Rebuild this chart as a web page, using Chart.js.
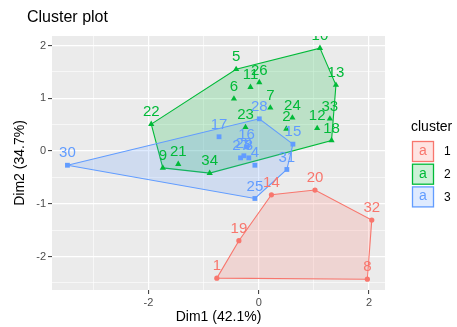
<!DOCTYPE html>
<html>
<head>
<meta charset="utf-8">
<script src="https://cdn.jsdelivr.net/npm/chart.js@4.4.0/dist/chart.umd.min.js"></script>
<style>
html, body { margin: 0; padding: 0; background: #fff; }
</style>
</head>
<body>
<canvas id="chartCluster" width="457" height="327"></canvas>
<script>
// cluster 1
var c1Ids = ['1', '8', '14', '19', '20', '32'];
var c1X = [-0.76, 1.97, 0.23, -0.36, 1.02, 2.05];
var c1Y = [-2.41, -2.43, -0.83, -1.70, -0.74, -1.31];

// cluster 2
var c2Ids = ['2', '5', '6', '7', '9', '10', '11', '12', '13', '18', '21', '22', '23', '24', '26', '33', '34'];
var c2X = [0.50, -0.41, -0.45, 0.21, -1.74, 1.11, -0.15, 1.06, 1.40, 1.32, -1.46, -1.95, -0.24, 0.61, 0.01, 1.29, -0.89];
var c2Y = [0.42, 1.55, 0.99, 0.82, -0.32, 1.95, 1.21, 0.43, 1.25, 0.20, -0.25, 0.51, 0.45, 0.63, 1.30, 0.61, -0.42];

// cluster 3
var c3Ids = ['3', '4', '15', '16', '17', '25', '27', '28', '29', '30', '31'];
var c3X = [-0.18, -0.07, 0.62, -0.22, -0.72, -0.07, -0.33, 0.01, -0.27, -3.47, 0.51];
var c3Y = [-0.13, -0.27, 0.13, 0.08, 0.27, -0.90, -0.13, 0.61, -0.09, -0.27, -0.35];

var clusterNames = ['1', '2', '3'];
var xMajor = [-2, 0, 2];
var xTicks = [-3, -2, -1, 0, 1, 2];
var yMajor = [-2, -1, 0, 1, 2];
var yTicks = [-2.5, -2, -1.5, -1, -0.5, 0, 0.5, 1, 1.5, 2];

var colors = ['#F8766D', '#00BA38', '#619CFF'];
var fills = ['rgba(248,118,109,0.2)', 'rgba(0,186,56,0.2)', 'rgba(97,156,255,0.2)'];
var shapes = ['circle', 'triangle', 'rect'];
var radii = [2.6, 3.6, 3.4];
var FONT = '"Liberation Sans", Arial, sans-serif';

function toPoints(ids, xs, ys) {
    var pts = [];
    for (var i = 0; i < ids.length; i++) {
        pts.push({ x: xs[i], y: ys[i], id: ids[i] });
    }
    return pts;
}

// convex hull (monotone chain), closed
function hull(pts) {
    var p = pts.slice().sort(function(a, b) { return a.x - b.x || a.y - b.y; });
    function cross(o, a, b) { return (a.x - o.x) * (b.y - o.y) - (a.y - o.y) * (b.x - o.x); }
    var lower = [], upper = [];
    for (var i = 0; i < p.length; i++) {
        while (lower.length >= 2 && cross(lower[lower.length - 2], lower[lower.length - 1], p[i]) <= 0) lower.pop();
        lower.push(p[i]);
    }
    for (i = p.length - 1; i >= 0; i--) {
        while (upper.length >= 2 && cross(upper[upper.length - 2], upper[upper.length - 1], p[i]) <= 0) upper.pop();
        upper.push(p[i]);
    }
    upper.pop();
    var h = lower.concat(upper);
    h.push(h[0]);
    return h.map(function(q) { return { x: q.x, y: q.y }; });
}

var clusters = [
    toPoints(c1Ids, c1X, c1Y),
    toPoints(c2Ids, c2X, c2Y),
    toPoints(c3Ids, c3X, c3Y)
];

var datasets = [];
clusters.forEach(function(pts, k) {
    datasets.push({
        label: 'hull' + clusterNames[k],
        data: hull(pts),
        borderColor: colors[k],
        backgroundColor: fills[k],
        borderWidth: 1.1,
        fill: 'shape',
        tension: 0,
        pointRadius: 0,
        order: 20 - k
    });
});
clusters.forEach(function(pts, k) {
    datasets.push({
        label: 'cluster' + clusterNames[k],
        data: pts,
        showLine: false,
        pointStyle: shapes[k],
        pointRadius: radii[k],
        pointBackgroundColor: colors[k],
        pointBorderColor: colors[k],
        pointBorderWidth: 0,
        isPoints: true,
        order: 5 - k
    });
});

var panelPlugin = {
    id: 'panel',
    beforeDraw: function(chart) {
        var a = chart.chartArea, c = chart.ctx;
        c.save();
        c.fillStyle = '#EBEBEB';
        c.fillRect(a.left, a.top, a.right - a.left, a.bottom - a.top);
        c.restore();
    },
    afterDatasetsDraw: function(chart) {
        var a = chart.chartArea, c = chart.ctx;
        c.save();
        c.beginPath();
        c.rect(a.left, a.top, a.right - a.left, a.bottom - a.top);
        c.clip();
        c.font = '15px ' + FONT;
        c.textAlign = 'center';
        c.textBaseline = 'middle';
        chart.data.datasets.forEach(function(ds, i) {
            if (!ds.isPoints) return;
            var meta = chart.getDatasetMeta(i);
            c.fillStyle = ds.pointBackgroundColor;
            meta.data.forEach(function(el, j) {
                c.fillText(ds.data[j].id, el.x, el.y - 12);
            });
        });
        c.restore();
    },
    afterDraw: function(chart) {
        var c = chart.ctx;
        c.save();
        c.fillStyle = '#000';
        c.textBaseline = 'middle';
        c.textAlign = 'left';
        c.font = '16px ' + FONT;
        c.fillText('Cluster plot', 27, 18);
        // legend
        c.font = '14px ' + FONT;
        c.fillText('cluster', 411, 127);
        for (var k = 0; k < clusterNames.length; k++) {
            var y = 141 + k * 22.7;
            c.fillStyle = '#fff';
            c.fillRect(412, y, 22, 21);
            c.fillStyle = fills[k];
            c.strokeStyle = colors[k];
            c.lineWidth = 1.3;
            c.fillRect(412.5, y + 0.5, 21, 20);
            c.strokeRect(412.5, y + 0.5, 21, 20);
            c.fillStyle = colors[k];
            c.textAlign = 'center';
            c.font = '14px ' + FONT;
            c.fillText('a', 423, y + 10);
            c.fillStyle = '#000';
            c.textAlign = 'left';
            c.font = '12px ' + FONT;
            c.fillText(clusterNames[k], 444, y + 11);
        }
        c.restore();
    }
};

function gridColor(major) {
    return function(ctx) { return '#FFFFFF'; };
}

var ctx = document.getElementById('chartCluster').getContext('2d');
var chart = new Chart(ctx, {
    type: 'line',
    data: { datasets: datasets },
    options: {
        responsive: false,
        animation: false,
        layout: { padding: { left: 8, right: 72, top: 36, bottom: 0 } },
        plugins: {
            legend: { display: false },
            tooltip: { enabled: false },
            title: { display: false }
        },
        scales: {
            x: {
                type: 'linear',
                min: -3.75,
                max: 2.29,
                afterBuildTicks: function(s) { s.ticks = xTicks.map(function(v) { return { value: v }; }); },
                afterFit: function(s) { s.height = 37; },
                border: { display: false },
                grid: {
                    color: '#FFFFFF',
                    lineWidth: function(c) { return xMajor.indexOf(c.tick.value) >= 0 ? 1.2 : 0.6; },
                    tickColor: function(c) { return xMajor.indexOf(c.tick.value) >= 0 ? '#333333' : 'rgba(0,0,0,0)'; },
                    tickLength: 4,
                    tickWidth: 1
                },
                ticks: {
                    color: '#4D4D4D',
                    font: { family: FONT, size: 11 },
                    padding: 2,
                    maxRotation: 0,
                    autoSkip: false,
                    callback: function(v) { return xMajor.indexOf(v) >= 0 ? String(v) : ''; }
                },
                title: {
                    display: true,
                    text: 'Dim1 (42.1%)',
                    color: '#000',
                    font: { family: FONT, size: 14 },
                    padding: { top: 1, bottom: 1 }
                }
            },
            y: {
                type: 'linear',
                min: -2.635,
                max: 2.18,
                afterBuildTicks: function(s) { s.ticks = yTicks.map(function(v) { return { value: v }; }); },
                afterFit: function(s) { s.width = 44; },
                border: { display: false },
                grid: {
                    color: '#FFFFFF',
                    lineWidth: function(c) { return yMajor.indexOf(c.tick.value) >= 0 ? 1.2 : 0.6; },
                    tickColor: function(c) { return yMajor.indexOf(c.tick.value) >= 0 ? '#333333' : 'rgba(0,0,0,0)'; },
                    tickLength: 4,
                    tickWidth: 1
                },
                ticks: {
                    color: '#4D4D4D',
                    font: { family: FONT, size: 11 },
                    padding: 2,
                    autoSkip: false,
                    callback: function(v) { return yMajor.indexOf(v) >= 0 ? String(v) : ''; }
                },
                title: {
                    display: true,
                    text: 'Dim2 (34.7%)',
                    color: '#000',
                    font: { family: FONT, size: 14 },
                    padding: { top: 4, bottom: 0 }
                }
            }
        }
    },
    plugins: [panelPlugin]
});
</script>
</body>
</html>
